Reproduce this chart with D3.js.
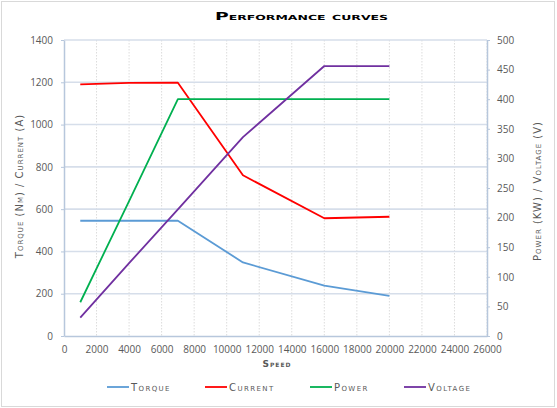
<!DOCTYPE html>
<html>
<head>
<meta charset="utf-8">
<script src="https://cdn.jsdelivr.net/npm/d3@7"></script>
<style>
  html, body { margin: 0; padding: 0; background: #fff; }
  svg { display: block; }
</style>
</head>
<body>
<svg id="chart" width="557" height="408"></svg>
<script>
// Values
const speeds = [1000, 4000, 7000, 11000, 16000, 20000];
const torque = [545, 545, 545, 348, 238, 190];
const current = [1190, 1197, 1198, 760, 557, 564];
const power = [57, 228, 400, 400, 400, 400];     // right axis (KW)
const voltage = [31, 123, 214, 336, 456, 456];   // right axis (V)

const speedTicks = d3.range(0, 26001, 2000);
const leftTicks = d3.range(0, 1401, 200);
const rightTicks = d3.range(0, 501, 50);

// Plot box
const plotLeft = 64, plotRight = 487, plotTop = 40, plotBottom = 336;

const svg = d3.select('#chart');

// outer frame
svg.append('rect')
    .attr('x', 1.5).attr('y', 1.5)
    .attr('width', 553).attr('height', 405)
    .attr('fill', '#fff')
    .attr('stroke', '#d9d9d9')
    .attr('stroke-width', 1);

let x = d3.scaleLinear().domain([0, 26000]).range([plotLeft, plotRight]);
let yL = d3.scaleLinear().domain([0, 1400]).range([plotBottom, plotTop]);
let yR = d3.scaleLinear().domain([0, 500]).range([plotBottom, plotTop]);

const tickFont = '"Open Sans", "Liberation Sans", sans-serif';
const capFont = '"DejaVu Sans", "Liberation Sans", sans-serif';
const grey = '#595959';

// vertical dotted gridlines
svg.append('g')
    .selectAll('line')
    .data(speedTicks.slice(1))
    .enter().append('line')
    .attr('x1', d => x(d)).attr('x2', d => x(d))
    .attr('y1', plotTop).attr('y2', plotBottom)
    .attr('stroke', '#dcdcdc')
    .attr('stroke-width', 1)
    .attr('stroke-dasharray', '1.5,1.5');

// horizontal gridlines
svg.append('g')
    .selectAll('line')
    .data(leftTicks.slice(1))
    .enter().append('line')
    .attr('x1', plotLeft).attr('x2', plotRight)
    .attr('y1', d => yL(d)).attr('y2', d => yL(d))
    .attr('stroke', '#d6deea')
    .attr('stroke-width', 1.6);

// axes
function styleAxis(g) {
    g.select('.domain').attr('stroke', '#b7c7dc').attr('stroke-width', 1.5);
    g.selectAll('.tick line').attr('stroke', '#b7c7dc');
    g.selectAll('.tick text')
        .attr('fill', grey)
        .style('font-family', tickFont)
        .style('font-size', '10px');
}

svg.append('g')
    .attr('transform', `translate(0,${plotBottom})`)
    .call(d3.axisBottom(x).tickValues(speedTicks).tickSize(0).tickPadding(10).tickFormat(d3.format('d')))
    .call(styleAxis);

svg.append('g')
    .attr('transform', `translate(${plotLeft},0)`)
    .call(d3.axisLeft(yL).tickValues(leftTicks).tickSize(3).tickSizeOuter(0).tickPadding(8).tickFormat(d3.format('d')))
    .call(styleAxis);

svg.append('g')
    .attr('transform', `translate(${plotRight},0)`)
    .call(d3.axisRight(yR).tickValues(rightTicks).tickSize(3).tickSizeOuter(0).tickPadding(7).tickFormat(d3.format('d')))
    .call(styleAxis);

// series lines
const series = [
    { name: 'Torque', values: torque, scale: yL, color: '#5b9bd5' },
    { name: 'Current', values: current, scale: yL, color: '#ff0000' },
    { name: 'Power', values: power, scale: yR, color: '#00b050' },
    { name: 'Voltage', values: voltage, scale: yR, color: '#7030a0' }
];

series.forEach(s => {
    let lineFunction = d3.line()
        .x((d, i) => x(speeds[i]))
        .y(d => s.scale(d));
    svg.append('path')
        .attr('d', lineFunction(s.values))
        .attr('fill', 'none')
        .attr('stroke', s.color)
        .attr('stroke-width', 1.8)
        .attr('stroke-linejoin', 'round');
});

// title (wide small caps, stretched to the width seen in the picture)
svg.append('text')
    .attr('x', 215).attr('y', 20)
    .attr('textLength', 173)
    .attr('lengthAdjust', 'spacingAndGlyphs')
    .style('font-family', capFont)
    .style('font-weight', 'bold')
    .style('font-variant', 'small-caps')
    .style('font-size', '10.5px')
    .attr('fill', '#000')
    .text('Performance curves');

// axis titles
function capLabel(sel) {
    sel.style('font-family', capFont)
        .style('font-variant', 'small-caps')
        .style('font-size', '10px')
        .style('letter-spacing', '1px')
        .attr('fill', grey)
        .attr('text-anchor', 'middle');
}

svg.append('text')
    .attr('transform', `translate(23,186) rotate(-90)`)
    .call(capLabel)
    .text('Torque (Nm) / Current (A)');

svg.append('text')
    .attr('transform', `translate(541,191) rotate(-90)`)
    .call(capLabel)
    .text('Power (KW) / Voltage (V)');

svg.append('text')
    .attr('x', 277).attr('y', 367)
    .call(capLabel)
    .style('font-weight', 'bold')
    .style('font-size', '9px')
    .text('Speed');

// legend
const legendX = [107, 205, 310, 404];
let legend = svg.append('g')
    .selectAll('g')
    .data(series)
    .enter().append('g')
    .attr('transform', (d, i) => `translate(${legendX[i]},387)`);

legend.append('line')
    .attr('x1', 0).attr('x2', 22)
    .attr('stroke', d => d.color)
    .attr('stroke-width', 1.8);

legend.append('text')
    .attr('x', 24).attr('y', 3.5)
    .call(capLabel)
    .style('letter-spacing', '1.4px')
    .attr('text-anchor', 'start')
    .text(d => d.name);
</script>
</body>
</html>
